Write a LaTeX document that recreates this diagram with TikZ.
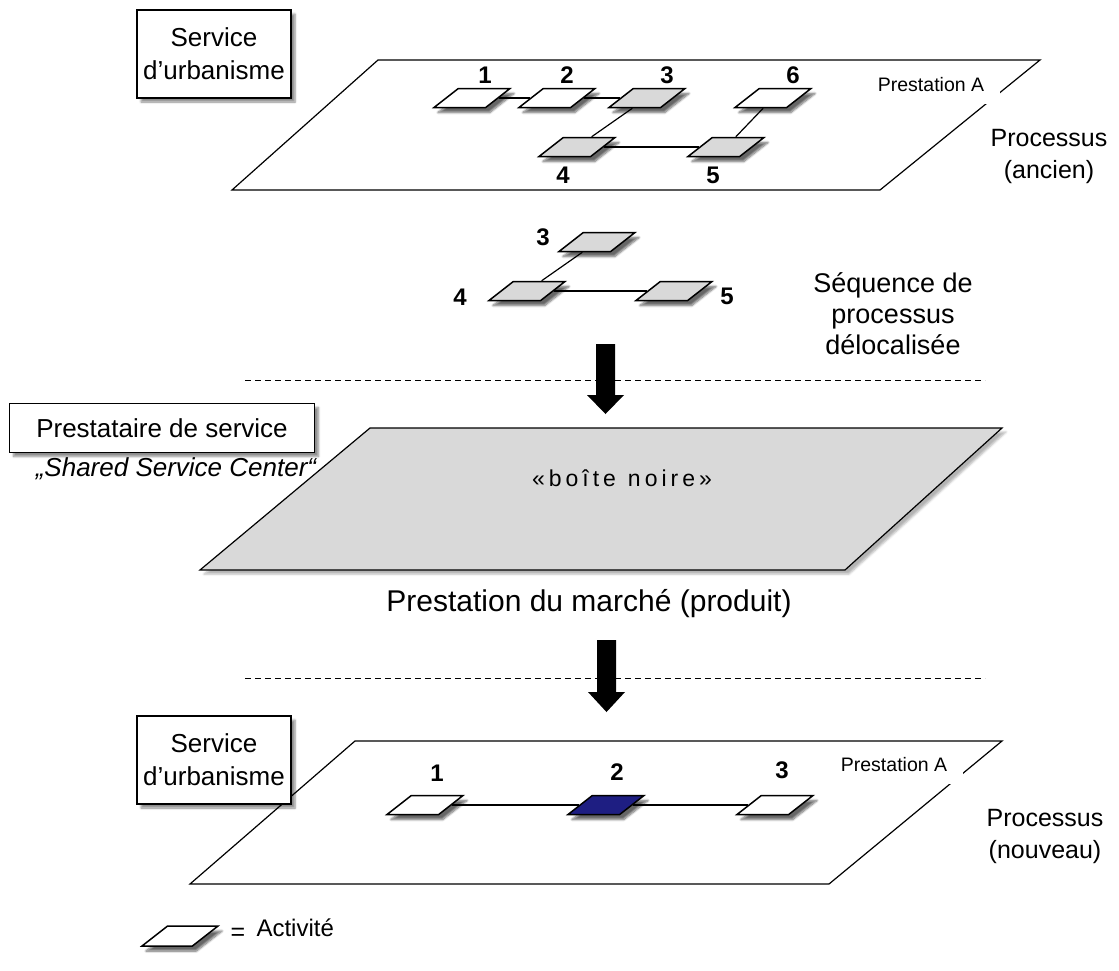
\documentclass[tikz,border=0pt]{standalone}
\usepackage{fontspec}
\setmainfont{Liberation Sans}
\usetikzlibrary{shapes.geometric,shadows.blur}

\tikzset{
  plane/.style={draw, line width=1.2pt},
  activity/.style={trapezium, trapezium left angle=38, trapezium right angle=142,
    trapezium stretches body, minimum width=76pt, inner xsep=0pt, inner ysep=9.5pt,
    draw, line width=1.5pt, fill=white,
    blur shadow={shadow xshift=4pt, shadow yshift=-5pt, shadow blur steps=8, shadow opacity=60}},
  greyfill/.style={fill=black!15},
  num/.style={font=\fontsize{24}{26}\selectfont\bfseries},
  txt/.style={font=\fontsize{25}{32}\selectfont, align=center},
  tag/.style={font=\fontsize{19.5}{22}\selectfont, fill=white, minimum width=138pt, minimum height=38pt},
  box/.style={draw, line width=1.2pt, fill=white, align=center, font=\fontsize{26}{33}\selectfont,
    blur shadow={shadow xshift=4pt, shadow yshift=-4pt, shadow blur steps=6, shadow opacity=45}},
  link/.style={line width=1.2pt},
  sep/.style={dash pattern=on 6pt off 4pt, line width=1pt},
}

\begin{document}
\begin{tikzpicture}[x=1pt, y=-1pt]
  \useasboundingbox (0,0) rectangle (1119,970);

  % ancien processus
  \draw[plane] (232,190) -- (880,190) -- (1040,60) -- (378,60) -- cycle;
  \node[tag] (tagA) at (931,85) {Prestation A};
  \node[box, minimum width=154pt, minimum height=88pt] (urba1) at (214,54) {Service\\d'urbanisme};
  \node[txt] (anc) at (1049,156) {Processus\\(ancien)};

  \node[activity] (a1) at (472,98) {};
  \node[activity] (a2) at (557,98) {};
  \node[activity, greyfill] (a3) at (647,98) {};
  \node[activity] (a6) at (773,98) {};
  \node[activity, greyfill] (a4) at (577,147) {};
  \node[activity, greyfill] (a5) at (726,147) {};
  \node[num] (n1) at (485,75) {1};
  \node[num] (n2) at (567,75) {2};
  \node[num] (n3) at (667,75) {3};
  \node[num] (n6) at (793,75) {6};
  \node[num] (n4) at (563,175) {4};
  \node[num] (n5) at (713,175) {5};
  \draw[link] (a1) -- (a2);
  \draw[link] (a2) -- (a3);
  \draw[link] (a3) -- (a4);
  \draw[link] (a4) -- (a5);
  \draw[link] (a5) -- (a6);

  % sequence delocalisee
  \node[activity, greyfill] (s3) at (597,242) {};
  \node[activity, greyfill] (s4) at (527,291) {};
  \node[activity, greyfill] (s5) at (674,291) {};
  \node[num] (m3) at (543,237) {3};
  \node[num] (m4) at (460,297) {4};
  \node[num] (m5) at (727,296) {5};
  \draw[link] (s3) -- (s4);
  \draw[link] (s4) -- (s5);
  \node[txt, font=\fontsize{27}{31}\selectfont] (seq) at (893,314) {Séquence de\\processus\\délocalisée};

  \draw[sep] (245,380) -- (985,380);
  \fill (596,344) -- (615,344) -- (615,395) -- (624,395) -- (605.5,414) -- (587,395) -- (596,395) -- cycle;

  % boite noire
  \node[box, minimum width=305pt, minimum height=49pt] (presta) at (162,428) {Prestataire de service};
  \draw[plane, greyfill, blur shadow={shadow xshift=4pt, shadow yshift=-4pt, shadow opacity=30}]
    (200,570) -- (845,570) -- (1002,428) -- (370,428) -- cycle;
  \node[txt, font=\fontsize{23}{26}\selectfont] (bn) at (622,478)
    {«\hspace{4pt}b\hspace{4pt}o\hspace{4pt}î\hspace{4pt}t\hspace{4pt}e\hspace{12pt}n\hspace{4pt}o\hspace{4pt}i\hspace{4pt}r\hspace{4pt}e\hspace{4pt}»};
  \node[txt, font=\fontsize{26}{32}\selectfont\itshape] (ssc) at (176,469) {„Shared Service Center“};
  \node[txt, font=\fontsize{30}{34}\selectfont] (march) at (589,604) {Prestation du marché (produit)};

  \draw[sep] (245,678) -- (985,678);
  \fill (597,640) -- (616,640) -- (616,692) -- (625,692) -- (606.5,712) -- (588,692) -- (597,692) -- cycle;

  % nouveau processus
  \draw[plane] (190,884) -- (829,884) -- (1002,741) -- (355,741) -- cycle;
  \node[tag] (tagB) at (894,765) {Prestation A};
  \node[box, minimum width=154pt, minimum height=88pt] (urba2) at (214,760) {Service\\d'urbanisme};
  \node[txt] (nouv) at (1045,836) {Processus\\(nouveau)};

  \node[activity] (b1) at (425,805) {};
  \node[activity, fill={rgb,255:red,30;green,30;blue,130}] (b2) at (606,805) {};
  \node[activity] (b3) at (775,805) {};
  \node[num] (p1) at (437,773) {1};
  \node[num] (p2) at (617,772) {2};
  \node[num] (p3) at (782,770) {3};
  \draw[link] (b1) -- (b2);
  \draw[link] (b2) -- (b3);

  % legende
  \node[activity, inner ysep=10pt] (leg) at (180,936) {};
  \node[txt] (eq) at (238,934) {=};
  \node[txt, font=\fontsize{24}{28}\selectfont, anchor=west] (act) at (253,928) {Activité};
\end{tikzpicture}
\end{document}
